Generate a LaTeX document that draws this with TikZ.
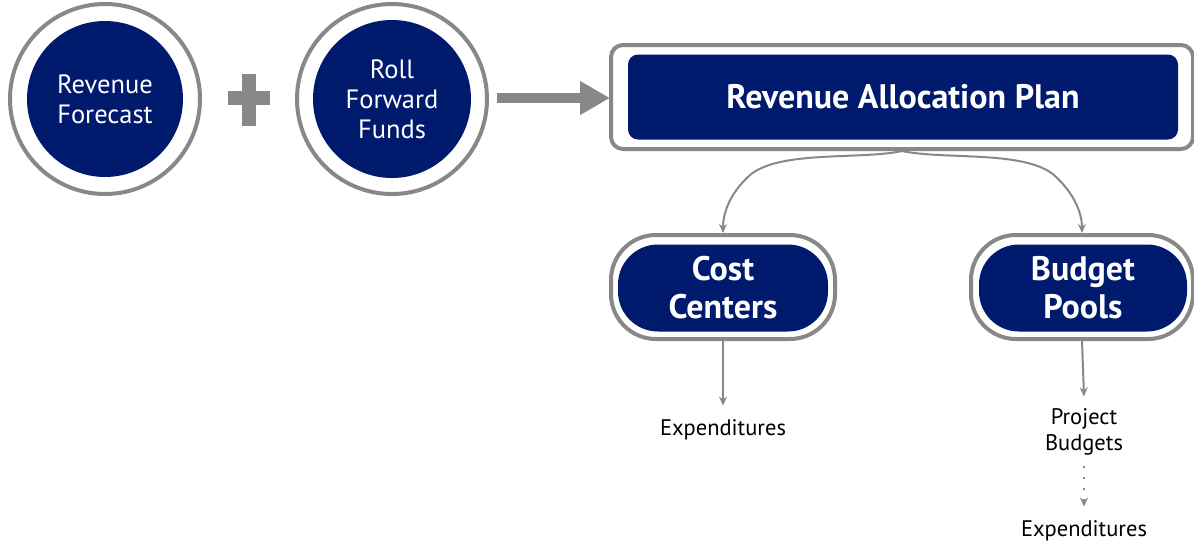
\documentclass[tikz,border=0pt]{standalone}
\usepackage{fontspec}
\setmainfont{PT Sans}
\usetikzlibrary{arrows.meta}
\definecolor{navy}{RGB}{0,26,110}
\definecolor{ringgray}{RGB}{136,136,136}
\begin{document}
\begin{tikzpicture}[x=1pt,y=-1pt,
  ring/.style={draw=ringgray,line width=4pt,fill=white,circle,inner sep=0pt},
  disc/.style={fill=navy,circle,inner sep=0pt,text=white,align=center,font=\fontsize{26.5}{30}\selectfont},
  outerbox/.style={draw=ringgray,line width=4pt,fill=white,rounded corners=12pt,inner sep=0pt},
  innerbox/.style={fill=navy,rounded corners=10pt,inner sep=0pt,text=white,align=center,font=\bfseries\fontsize{34}{38}\selectfont},
  conn/.style={draw=ringgray,line width=2pt,-{Stealth[length=9pt,width=8pt]}},
  lbl/.style={font=\fontsize{22.5}{26}\selectfont,align=center,inner sep=0pt}
]
\useasboundingbox (0,0) rectangle (1194,546);
% circles
\node[ring,minimum size=190pt] (rfring) at (105,99) {};
\node[disc,minimum size=156pt] (rf) at (105,99) {Revenue\\Forecast};
\node[ring,minimum size=190pt] (rffring) at (392,99) {};
\node[disc,minimum size=158pt] (rff) at (392,99) {Roll\\Forward\\Funds};
% plus
\fill[ringgray] (242,74) rectangle (256,126);
\fill[ringgray] (228,91) rectangle (270,105);
% big arrow
\coordinate (arrS) at (497,98);
\coordinate (arrE) at (610,98);
\draw[ringgray,line width=10pt,-{Triangle[length=30pt,width=32pt]}] (arrS) -- (arrE);
% plan box
\node[outerbox,minimum width=582pt,minimum height=104pt] (planring) at (902,97) {};
\node[innerbox,minimum width=550pt,minimum height=85pt] (plan) at (903,97) {Revenue Allocation Plan};
% cost centers
\node[outerbox,rounded corners=45pt,minimum width=224pt,minimum height=104pt] (ccring) at (723,287) {};
\node[innerbox,rounded corners=40pt,minimum width=210pt,minimum height=87pt] (cc) at (723,288) {Cost\\Centers};
% budget pools
\node[outerbox,rounded corners=45pt,minimum width=222pt,minimum height=104pt] (bpring) at (1082,287) {};
\node[innerbox,rounded corners=40pt,minimum width=208pt,minimum height=87pt] (bp) at (1083,288) {Budget\\Pools};
% curved connectors
\draw[conn] (planring.south) .. controls (860,160) and (780,150) .. (750,175) .. controls (728,195) and (723,215) .. (ccring.north);
\draw[conn] (planring.south) .. controls (944,160) and (1024,150) .. (1054,175) .. controls (1076,195) and (1082,215) .. (bpring.north);
% labels
\node[lbl] (exp1) at (723,430) {Expenditures};
\node[lbl] (pb) at (1084,432) {Project\\Budgets};
\node[lbl] (exp2) at (1084,531) {Expenditures};
\draw[conn] (ccring.south) -- ([yshift=14pt]exp1.north);
\draw[conn] (bpring.south) -- ([yshift=12pt]pb.north);
\draw[conn,dash pattern=on 2pt off 9pt] ([yshift=-10pt]pb.south) -- ([yshift=14pt]exp2.north);
\end{tikzpicture}
\end{document}
